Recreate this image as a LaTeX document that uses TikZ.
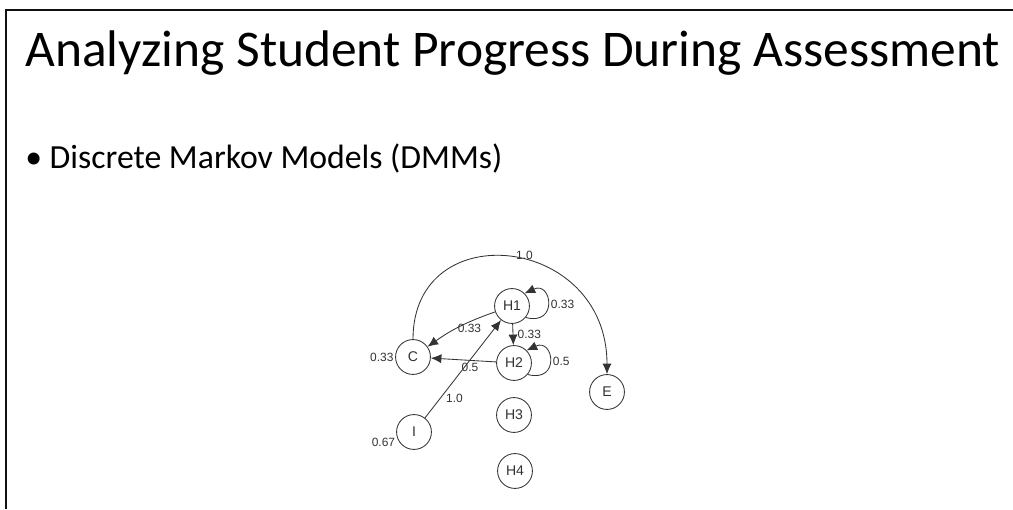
\documentclass[tikz,border=0pt]{standalone}
\usepackage{fontspec}
\setmainfont{Carlito}
\newfontfamily\diafont{Liberation Sans}
\usetikzlibrary{positioning, arrows.meta}
\usepackage{xcolor}
\definecolor{slideline}{HTML}{111111}
\definecolor{dmmgray}{HTML}{333333}

\begin{document}
\begin{tikzpicture}[x=0.025cm, y=0.025cm,
        st/.style={draw=dmmgray, line width=0.6pt, circle, minimum size=24.8pt, inner sep=0pt, text=dmmgray, font=\diafont\fontsize{10}{10}\selectfont},
        lbl/.style={text=dmmgray, inner sep=1pt, font=\diafont\fontsize{8.5}{8.5}\selectfont},
        tr/.style={draw=dmmgray, line width=0.6pt, -{Latex[length=7.5pt,width=6.5pt]}}]
      \useasboundingbox (0,0) rectangle (1013,509);
      \draw[slideline, line width=1.4pt] (6,0) -- (6,499) -- (1013,499);
      % slide text
      \node[anchor=base west, inner sep=0pt, font=\fontsize{36.6}{36.6}\selectfont] (title) at (25,442) {Analyzing Student Progress During Assessment};
      \node[anchor=base west, inner sep=0pt, font=\fontsize{24}{24}\selectfont] (point) at (25,341) {\textbullet\ Discrete Markov Models (DMMs)};
      % states
      \node[st] (h1) at (512,203) {H1};
      \node[st] (h2) at (514,146) {H2};
      \node[st, label={[lbl]left:0.33}] (c) at (413,152) {C};
      \node[st] (e) at (607,117) {E};
      \node[st, label={[lbl]195:0.67}] (i) at (414,77) {I};
      \node[st] (h3) at (514,94) {H3};
      \node[st] (h4) at (515,38) {H4};
      % transitions
      \draw[tr] (c.north) .. controls +(0,125) and +(0,140) .. node[lbl, pos=0.55, above=-1pt] {1.0} (e.north);
      \draw[tr] (h1.-40) .. controls +(-15:34) and +(25:30) .. node[lbl, right=1pt] {0.33} (h1.45);
      \draw[tr] (h2.-40) .. controls +(-15:34) and +(25:30) .. node[lbl, right=1pt] {0.5} (h2.45);
      \draw[tr] (h1) to[bend right=8] node[lbl, pos=0.35, below=0pt] {0.33} (c);
      \draw[tr] (h1) -- node[lbl, right=2pt] {0.33} (h2);
      \draw[tr] (h2) -- node[lbl, pos=0.4, below=1pt] {0.5} (c);
      \draw[tr] (i) -- node[lbl, pos=0.2, right=3pt] {1.0} (h1);
    \end{tikzpicture}
\end{document}
